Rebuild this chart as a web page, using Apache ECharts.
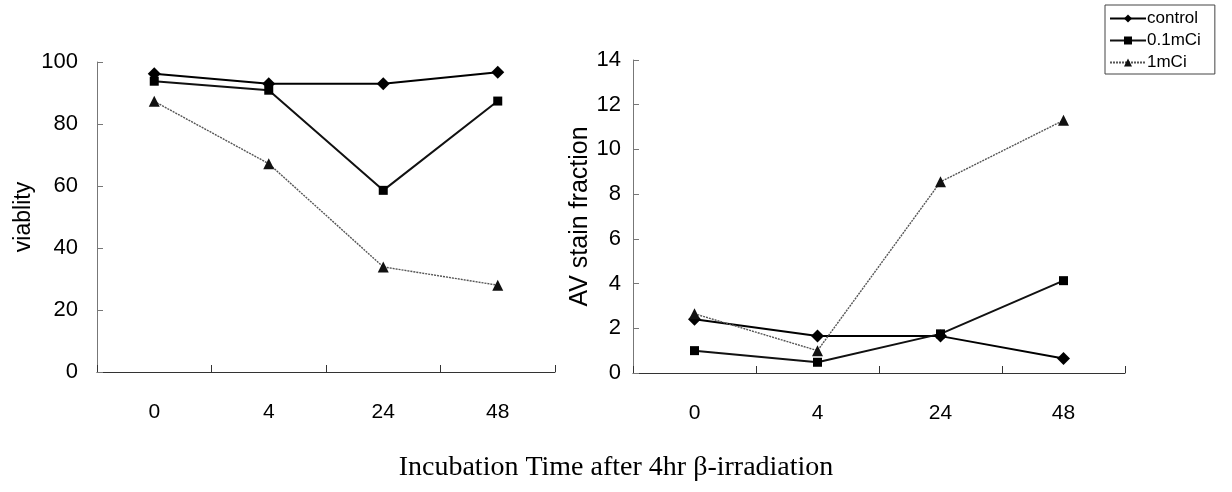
<!DOCTYPE html>
<html>
<head>
<meta charset="utf-8">
<script src="https://cdn.jsdelivr.net/npm/echarts@6/dist/echarts.min.js"></script>
<style>
  html, body { margin: 0; padding: 0; background: #fff; }
  #chart { width: 1232px; height: 492px; }
</style>
</head>
<body>
<div id="chart"></div>
<script>
// Incubation time points (hours)
const timePoints = ['0', '4', '24', '48'];

// Cell viability (%)
const viabilityControl = [96.2, 93.0, 93.0, 96.7];
const viabilityLow = [93.8, 90.9, 58.6, 87.4];
const viabilityHigh = [87.3, 67.2, 33.9, 28.0];

// AV stain fraction
const avControl = [2.4, 1.65, 1.65, 0.65];
const avLow = [1.0, 0.48, 1.75, 4.13];
const avHigh = [2.65, 1.0, 8.55, 11.3];

const seriesNames = ['control', '0.1mCi', '1mCi'];

const sansFont = '"Liberation Sans", Arial, sans-serif';
const serifFont = '"Liberation Serif", "Times New Roman", serif';

const styles = [
  { symbol: 'diamond', symbolSize: 13, line: { color: '#000', width: 2, type: 'solid' }, item: '#000' },
  { symbol: 'rect', symbolSize: 9, line: { color: '#111', width: 2, type: 'solid' }, item: '#000' },
  { symbol: 'triangle', symbolSize: 11, line: { color: '#555', width: 1.4, type: [2, 1] }, item: '#111' }
];

function makeSeries(name, idx, data, axisIdx) {
  const s = styles[idx];
  return {
    name: name,
    type: 'line',
    xAxisIndex: axisIdx,
    yAxisIndex: axisIdx,
    data: data,
    symbol: s.symbol,
    symbolSize: s.symbolSize,
    showSymbol: true,
    lineStyle: s.line,
    itemStyle: { color: s.item, borderWidth: 0 },
    animation: false
  };
}

function xAxisFor(gridIndex) {
  return {
    type: 'category',
    gridIndex: gridIndex,
    data: timePoints,
    boundaryGap: true,
    axisLine: { lineStyle: { color: '#333', width: 1 } },
    axisTick: { show: true, inside: true, length: 7, lineStyle: { color: '#333' } },
    axisLabel: { color: '#000', fontFamily: sansFont, fontSize: 21, margin: 30 },
    splitLine: { show: false }
  };
}

function yAxisFor(gridIndex, max, interval, name, nameSize, nameGap, labelMargin) {
  return {
    type: 'value',
    gridIndex: gridIndex,
    min: 0,
    max: max,
    interval: interval,
    name: name,
    nameLocation: 'middle',
    nameRotate: 90,
    nameGap: nameGap,
    nameTextStyle: { color: '#000', fontFamily: sansFont, fontSize: nameSize },
    axisLine: { show: true, lineStyle: { color: '#777', width: 1 } },
    axisTick: { show: true, inside: true, length: 6, lineStyle: { color: '#777' } },
    axisLabel: { color: '#000', fontFamily: sansFont, fontSize: 22, margin: labelMargin },
    splitLine: { show: false }
  };
}

const chart = echarts.init(document.getElementById('chart'), null, { renderer: 'canvas' });

chart.setOption({
  backgroundColor: '#fff',
  animation: false,
  title: {
    text: 'Incubation Time after 4hr β-irradiation',
    left: 'center',
    top: 449,
    textStyle: { fontFamily: serifFont, fontSize: 28, fontWeight: 'normal', color: '#000' }
  },
  legend: {
    data: seriesNames,
    orient: 'vertical',
    left: 1105,
    top: 5,
    itemWidth: 36,
    itemHeight: 10,
    itemGap: 5,
    padding: [5, 14, 3, 4],
    borderColor: '#444',
    borderWidth: 1,
    textStyle: { color: '#000', fontFamily: sansFont, fontSize: 17, padding: [0, 0, 0, -4] }
  },
  grid: [
    { left: 97, top: 62, width: 458, height: 310 },
    { left: 633, top: 60, width: 492, height: 313 }
  ],
  xAxis: [xAxisFor(0), xAxisFor(1)],
  yAxis: [
    yAxisFor(0, 100, 20, 'viablity', 23, 62, 19),
    yAxisFor(1, 14, 2, 'AV stain fraction', 25, 33, 12)
  ],
  series: [
    makeSeries(seriesNames[0], 0, viabilityControl, 0),
    makeSeries(seriesNames[1], 1, viabilityLow, 0),
    makeSeries(seriesNames[2], 2, viabilityHigh, 0),
    makeSeries(seriesNames[0], 0, avControl, 1),
    makeSeries(seriesNames[1], 1, avLow, 1),
    makeSeries(seriesNames[2], 2, avHigh, 1)
  ]
});
</script>
</body>
</html>
